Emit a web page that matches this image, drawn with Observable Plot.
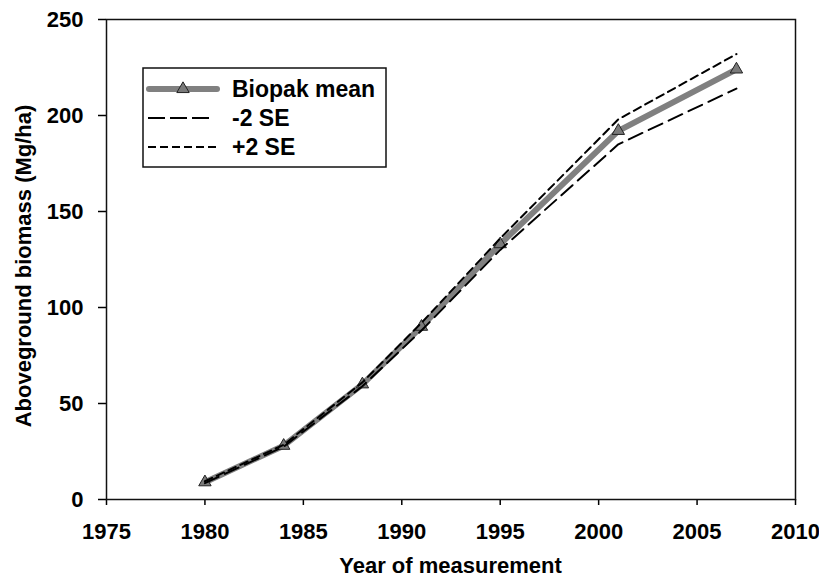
<!DOCTYPE html>
<html>
<head>
<meta charset="utf-8">
<script src="https://cdn.jsdelivr.net/npm/d3@7"></script>
<script src="https://cdn.jsdelivr.net/npm/@observablehq/plot@0.6"></script>
<style>
  html, body { margin: 0; padding: 0; background: #fff; }
  #chart { width: 819px; height: 579px; }
</style>
</head>
<body>
<div id="chart"></div>
<script>
const years = [1980, 1984, 1988, 1991, 1995, 2001, 2007];
const meanValues = [9, 28, 60, 90, 133, 192, 224];
const lowerValues = [8.5, 27.5, 59, 88, 130, 185, 214];
const upperValues = [9.5, 28.5, 61, 92, 136, 198, 232];
const xTicks = [1975, 1980, 1985, 1990, 1995, 2000, 2005, 2010];
const yTicks = [0, 50, 100, 150, 200, 250];
const seriesNames = ["Biopak mean", "-2 SE", "+2 SE"];
const xTitle = "Year of measurement";
const yTitle = "Aboveground biomass (Mg/ha)";

const mean = years.map((x, i) => ({x, y: meanValues[i]}));
const lower = years.map((x, i) => ({x, y: lowerValues[i]}));
const upper = years.map((x, i) => ({x, y: upperValues[i]}));

const font = "'Liberation Sans', Arial, Helvetica, sans-serif";

const chart = Plot.plot({
  width: 819,
  height: 579,
  marginLeft: 106,
  marginRight: 24,
  marginTop: 19,
  marginBottom: 80,
  style: {fontFamily: font, fontSize: "22px", fontWeight: "bold", color: "#000", background: "#fff"},
  x: {domain: [1975, 2010]},
  y: {domain: [0, 250]},
  marks: [
    Plot.axisX({ticks: xTicks, tickSize: 6, tickPadding: 18, tickFormat: d => String(d), label: null, fontSize: 22, fontWeight: "bold", strokeWidth: 1.5}),
    Plot.axisY({ticks: yTicks, tickSize: 8, tickPadding: 15, tickFormat: d => String(d), label: null, fontSize: 22, fontWeight: "bold", strokeWidth: 1.5}),
    Plot.line(mean, {x: "x", y: "y", stroke: "#808080", strokeWidth: 6}),
    Plot.dot(mean, {x: "x", y: "y", symbol: "triangle", r: 4.6, fill: "#7a7a7a", stroke: "#222", strokeWidth: 1}),
    Plot.line(lower, {x: "x", y: "y", stroke: "#000", strokeWidth: 2, strokeDasharray: "15,7"}),
    Plot.line(upper, {x: "x", y: "y", stroke: "#000", strokeWidth: 2, strokeDasharray: "8,5"}),
    Plot.frame({stroke: "#111", strokeWidth: 1.5})
  ]
});

document.getElementById("chart").appendChild(chart);

const svg = d3.select(chart);
const xs = chart.scale("x"), ys = chart.scale("y");
const xMid = (xs.range[0] + xs.range[1]) / 2;

// Axis titles
svg.append("text")
  .attr("x", xMid).attr("y", 573)
  .attr("text-anchor", "middle").attr("font-family", font).attr("font-weight", "bold").attr("font-size", 22)
  .attr("fill", "#000").text(xTitle);
svg.append("text")
  .attr("transform", "translate(31,266) rotate(-90)")
  .attr("text-anchor", "middle").attr("font-family", font).attr("font-weight", "bold").attr("font-size", 22)
  .attr("fill", "#000").text(yTitle);

// Legend
const lg = svg.append("g").attr("font-family", font).attr("font-weight", "bold").attr("font-size", 23);
lg.append("rect").attr("x", 143).attr("y", 68).attr("width", 243).attr("height", 99)
  .attr("fill", "#fff").attr("stroke", "#111").attr("stroke-width", 1.5);
const rows = [89, 118, 147];
lg.append("line").attr("x1", 149).attr("x2", 217).attr("y1", rows[0]).attr("y2", rows[0])
  .attr("stroke", "#808080").attr("stroke-width", 6).attr("stroke-linecap", "round");
lg.append("path").attr("transform", `translate(183,${rows[0]})`)
  .attr("d", d3.symbol(d3.symbolTriangle, Math.PI * 4.6 * 4.6)())
  .attr("fill", "#7a7a7a").attr("stroke", "#222").attr("stroke-width", 1);
lg.append("line").attr("x1", 148).attr("x2", 209).attr("y1", rows[1]).attr("y2", rows[1])
  .attr("stroke", "#000").attr("stroke-width", 2).attr("stroke-dasharray", "17,5");
lg.append("line").attr("x1", 148).attr("x2", 216).attr("y1", rows[2]).attr("y2", rows[2])
  .attr("stroke", "#000").attr("stroke-width", 2).attr("stroke-dasharray", "8,4");
seriesNames.forEach((name, i) => {
  lg.append("text").attr("x", 232).attr("y", rows[i]).attr("dy", "0.35em")
    .attr("text-anchor", "start").attr("fill", "#000").text(name);
});
</script>
</body>
</html>
